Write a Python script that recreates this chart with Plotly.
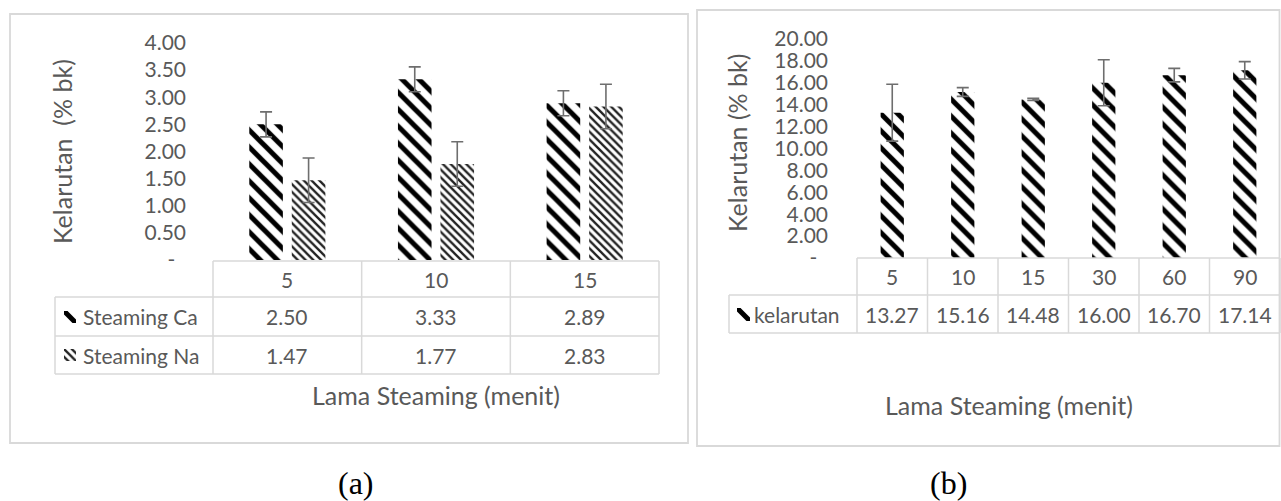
import plotly.graph_objects as go

# ---- data -------------------------------------------------------------
minutes_a = ["5", "10", "15"]
series_a = ["Steaming Ca", "Steaming Na"]
steaming_ca = [2.50, 3.33, 2.89]
steaming_na = [1.47, 1.77, 2.83]
err_ca = [0.23, 0.23, 0.23]
err_na = [0.41, 0.41, 0.41]
yticks_a = [0, 0.5, 1.0, 1.5, 2.0, 2.5, 3.0, 3.5, 4.0]

minutes_b = ["5", "10", "15", "30", "60", "90"]
series_b = ["kelarutan"]
kelarutan = [13.27, 15.16, 14.48, 16.00, 16.70, 17.14]
err_kel = [2.6, 0.40, 0.10, 2.1, 0.62, 0.79]
yticks_b = [0, 2, 4, 6, 8, 10, 12, 14, 16, 18, 20]

y_title_a = "Kelarutan\u00a0 (% bk)"
y_title_b = "Kelarutan (% bk)"
x_title = "Lama Steaming (menit)"
panel_labels = ["(a)", "(b)"]

# ---- style -------------------------------------------------------------
W, H = 1281, 501
FONT = "Lato"
GREY = "#595959"
RULE = "#D9D9D9"
ERR = "#6E6E6E"
FS_TICK = 21
FS_TITLE = 25

PAT_CA = dict(shape="\\", fgcolor="black", bgcolor="white", size=12, solidity=0.42, fillmode="replace")
PAT_NA = dict(shape="\\", fgcolor="#222222", bgcolor="white", size=5.5, solidity=0.42, fillmode="replace")


def px(x):
    return x / W


def py(y):
    return 1 - y / H


def tick_text(vals):
    return ["-\u00a0\u00a0" if v == 0 else f"{v:.2f}" for v in vals]


# plot-area boxes in pixels: (left, right), (bottom, top)
A_X, A_Y = (213, 659), (260, 43)
B_X, B_Y = (857, 1280), (258, 39)

fig = go.Figure()

# ---- panel (a) bars ----------------------------------------------------
for name, vals, err, pat in [
    (series_a[0], steaming_ca, err_ca, PAT_CA),
    (series_a[1], steaming_na, err_na, PAT_NA),
]:
    fig.add_trace(go.Bar(
        x=minutes_a, y=vals, name=name, xaxis="x", yaxis="y",
        marker=dict(color="white", line=dict(width=0), pattern=pat),
        error_y=dict(type="data", array=err, visible=True, color=ERR, thickness=1.6, width=6),
        showlegend=False,
    ))

# ---- panel (b) bars ----------------------------------------------------
fig.add_trace(go.Bar(
    x=minutes_b, y=kelarutan, name=series_b[0], xaxis="x2", yaxis="y2",
    width=0.33,
    marker=dict(color="white", line=dict(width=0), pattern=PAT_CA),
    error_y=dict(type="data", array=err_kel, visible=True, color=ERR, thickness=1.6, width=6),
    showlegend=False,
))

# ---- legend swatches inside the data tables ----------------------------
swatches = [
    ((64, 76), (323, 311), PAT_CA),
    ((64, 76), (361, 349), PAT_NA),
    ((737, 750), (321, 308), PAT_CA),
]
for i, ((x0, x1), (y0, y1), pat) in enumerate(swatches, start=3):
    fig.add_trace(go.Bar(
        x=[0], y=[1], width=1, xaxis=f"x{i}", yaxis=f"y{i}",
        marker=dict(color="white", line=dict(width=0), pattern=pat),
        showlegend=False, hoverinfo="skip",
    ))
    fig.update_layout(**{
        f"xaxis{i}": dict(domain=[px(x0), px(x1)], range=[-0.5, 0.5], visible=False,
                          fixedrange=True, anchor=f"y{i}", automargin=False),
        f"yaxis{i}": dict(domain=[py(y0), py(y1)], range=[0, 1], visible=False,
                          fixedrange=True, anchor=f"x{i}", automargin=False),
    })

axis_font = dict(family=FONT, size=FS_TICK, color=GREY)

fig.update_layout(
    width=W, height=H, autosize=False,
    margin=dict(l=0, r=0, t=0, b=0, pad=0, autoexpand=False),
    paper_bgcolor="white", plot_bgcolor="rgba(0,0,0,0)",
    barmode="group", bargap=0.428, bargroupgap=0.21,
    showlegend=False,
    xaxis=dict(domain=[px(A_X[0]), px(A_X[1])], anchor="y", type="category",
               categoryorder="array", categoryarray=minutes_a, automargin=False,
               showticklabels=False, showline=False, showgrid=False, zeroline=False, ticks=""),
    yaxis=dict(domain=[py(A_Y[0]), py(A_Y[1])], anchor="x", range=[0, 4], automargin=False,
               tickvals=yticks_a, ticktext=tick_text(yticks_a), tickfont=axis_font,
               ticklabelstandoff=26,
               showline=False, showgrid=False, zeroline=False, ticks=""),
    xaxis2=dict(domain=[px(B_X[0]), px(B_X[1])], anchor="y2", type="category",
                categoryorder="array", categoryarray=minutes_b, automargin=False,
                showticklabels=False, showline=False, showgrid=False, zeroline=False, ticks=""),
    yaxis2=dict(domain=[py(B_Y[0]), py(B_Y[1])], anchor="x2", range=[0, 20], automargin=False,
                tickvals=yticks_b, ticktext=tick_text(yticks_b), tickfont=axis_font,
                ticklabelstandoff=28,
                showline=False, showgrid=False, zeroline=False, ticks=""),
)

shapes = []
annotations = []


def hline(x0, x1, y, color=RULE, w=1.5):
    shapes.append(dict(type="line", xref="paper", yref="paper",
                       x0=px(x0), x1=px(x1), y0=py(y), y1=py(y),
                       line=dict(color=color, width=w)))


def vline(x, y0, y1, color=RULE, w=1.5):
    shapes.append(dict(type="line", xref="paper", yref="paper",
                       x0=px(x), x1=px(x), y0=py(y0), y1=py(y1),
                       line=dict(color=color, width=w)))


def text(x, y, s, size=FS_TICK, anchor="center", color=GREY, family=FONT, angle=0):
    annotations.append(dict(xref="paper", yref="paper", x=px(x), y=py(y), text=s,
                            showarrow=False, xanchor=anchor, yanchor="middle",
                            textangle=angle, font=dict(family=family, size=size, color=color)))


# ---- outer chart borders ----------------------------------------------
for (l, t, r, b) in [(10, 14, 688, 443), (697, 10, 1279.5, 446)]:
    shapes.append(dict(type="rect", xref="paper", yref="paper",
                       x0=px(l), x1=px(r), y0=py(b), y1=py(t),
                       line=dict(color=RULE, width=1.8), fillcolor="rgba(0,0,0,0)", layer="below"))


def data_table(xdom, cats, rows, label_left, row_edges, label_x):
    """Category header + one row per series, columns aligned with the category axis."""
    x0, x1 = xdom
    n = len(cats)
    col = (x1 - x0) / n
    top, bottom = row_edges[0], row_edges[-1]
    hline(x0, x1, top)
    for y in row_edges[1:]:
        hline(label_left, x1, y)
    for i in range(n + 1):
        vline(x0 + i * col, top, bottom)
    vline(label_left, row_edges[1], bottom)
    hy = (row_edges[0] + row_edges[1]) / 2
    for i, c in enumerate(cats):
        text(x0 + (i + 0.5) * col, hy, c)
    for r, (name, vals) in enumerate(rows):
        ry = (row_edges[r + 1] + row_edges[r + 2]) / 2
        text(label_x, ry, name, anchor="left")
        for i, v in enumerate(vals):
            text(x0 + (i + 0.5) * col, ry, f"{v:.2f}")


data_table(A_X, minutes_a, [(series_a[0], steaming_ca), (series_a[1], steaming_na)],
           label_left=55, row_edges=[261, 297, 336, 374], label_x=81)
data_table(B_X, minutes_b, [(series_b[0], kelarutan)],
           label_left=729, row_edges=[258, 295, 333], label_x=752)

# ---- axis titles and panel captions -----------------------------------
text(62, 152, y_title_a, size=FS_TITLE, angle=-90)
text(737, 143, y_title_b, size=FS_TITLE, angle=-90)
text(436, 395, x_title, size=FS_TITLE)
text(1009, 405, x_title, size=FS_TITLE)
text(356, 483, panel_labels[0], size=32, color="black", family="Liberation Serif")
text(948, 483, panel_labels[1], size=32, color="black", family="Liberation Serif")

fig.update_layout(shapes=shapes, annotations=annotations)

fig.write_html("out.html")
